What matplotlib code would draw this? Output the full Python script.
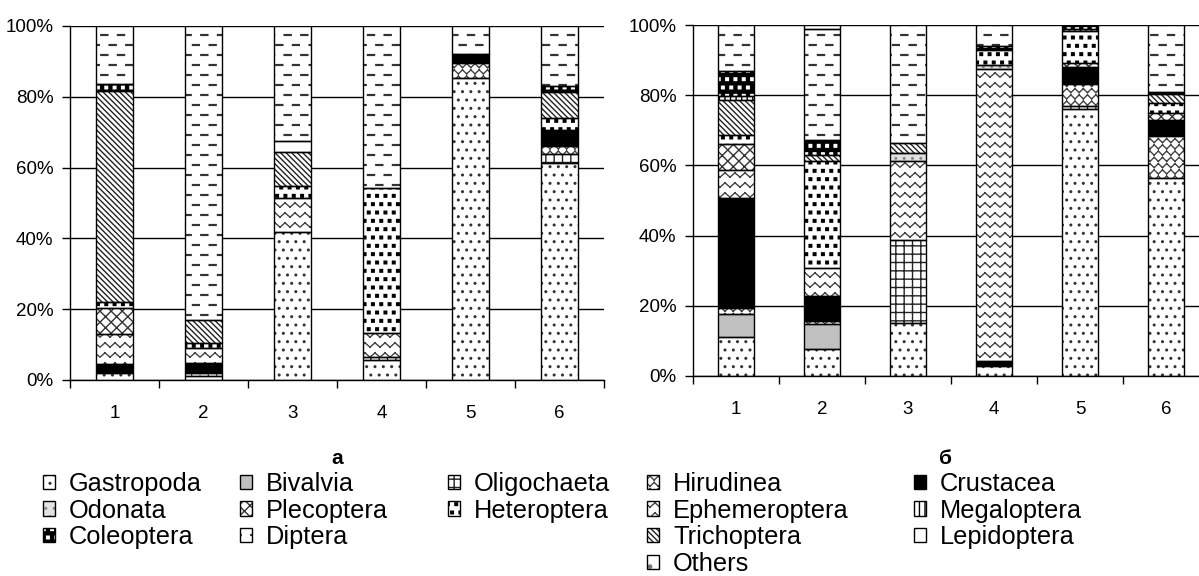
import numpy as np
import matplotlib
matplotlib.use('Agg')
import matplotlib.pyplot as plt
import matplotlib.hatch as mhatch
from matplotlib.path import Path
from matplotlib.patches import Patch

# === DATA (share of each taxon, %) : (panel a, panel b), stations 1..6 ===
STATIONS = ['1', '2', '3', '4', '5', '6']
PANEL_LABELS = ['а', 'б']
Y_TICKS = [0, 20, 40, 60, 80, 100]
Y_LABELS = ['0%', '20%', '40%', '60%', '80%', '100%']

GASTROPODA = ([2.0, 1.0, 41.7, 5.6, 85.2, 61.2], [11.2, 7.6, 15.2, 2.8, 76.2, 56.3])
BIVALVIA = ([0, 0, 0, 0, 0, 0], [6.6, 7.1, 0, 0, 0, 0])
OLIGOCHAETA = ([0, 0, 0, 1.0, 0, 2.6], [0, 0, 23.5, 0, 0.7, 0])
HIRUDINEA = ([0, 1.1, 0, 0, 4.4, 2.4], [1.5, 1.0, 0, 0, 6.4, 12.0])
CRUSTACEA = ([2.4, 2.8, 0, 0, 2.4, 4.4], [31.3, 7.1, 0, 1.6, 4.7, 4.6])
EPHEMEROPTERA = ([8.5, 4.2, 9.6, 6.6, 0, 0], [8.0, 8.0, 22.5, 83.2, 0, 0])
ODONATA = ([0, 0, 0, 0, 0, 0], [0, 0, 2.4, 0.9, 0, 0])
PLECOPTERA = ([7.4, 0, 0, 0, 0, 0], [7.6, 0, 0, 0, 1.2, 1.9])
HETEROPTERA = ([1.8, 1.4, 3.6, 40.9, 0, 3.3], [2.4, 30.4, 0, 4.3, 9.1, 3.0])
TRICHOPTERA = ([59.6, 6.4, 9.6, 0, 0, 7.5], [10.1, 1.7, 2.8, 0, 0.6, 2.4])
MEGALOPTERA = ([0, 0, 0, 0, 0, 0], [1.0, 0, 0, 0, 0, 0])
COLEOPTERA = ([1.9, 0, 0, 0, 0, 1.7], [7.1, 4.3, 0, 1.1, 1.1, 0.7])
LEPIDOPTERA = ([0, 0, 3.0, 0, 0, 0], [0, 0, 0, 0, 0, 0])
DIPTERA = ([16.4, 83.1, 32.5, 45.9, 8.0, 16.9], [13.2, 31.8, 33.6, 6.1, 0, 19.1])
OTHERS = ([0, 0, 0, 0, 0, 0], [0, 1.0, 0, 0, 0, 0])

TAXA = {
    'Gastropoda': GASTROPODA, 'Bivalvia': BIVALVIA, 'Oligochaeta': OLIGOCHAETA,
    'Hirudinea': HIRUDINEA, 'Crustacea': CRUSTACEA, 'Ephemeroptera': EPHEMEROPTERA,
    'Odonata': ODONATA, 'Plecoptera': PLECOPTERA, 'Heteroptera': HETEROPTERA,
    'Trichoptera': TRICHOPTERA, 'Megaloptera': MEGALOPTERA, 'Coleoptera': COLEOPTERA,
    'Lepidoptera': LEPIDOPTERA, 'Diptera': DIPTERA, 'Others': OTHERS,
}
STACK = list(TAXA)  # bottom -> top

# legend columns as in the original layout (icon left edge, px)
LEGEND_COLS = [
    (['Gastropoda', 'Odonata', 'Coleoptera'], 43),
    (['Bivalvia', 'Plecoptera', 'Diptera'], 240),
    (['Oligochaeta', 'Heteroptera'], 448),
    (['Hirudinea', 'Ephemeroptera', 'Trichoptera', 'Others'], 647),
    (['Crustacea', 'Megaloptera', 'Lepidoptera'], 914),
]


# --- custom hatch patterns (dashes, waves, weave, squares) ---
def _segs(segs):
    v = np.array(segs, float).reshape(-1, 2)
    c = np.tile([Path.MOVETO, Path.LINETO], len(segs)).astype(Path.code_type)
    return v, c


def _boxes(boxes):
    v, c = [], []
    for x0, y0, x1, y1 in boxes:
        v += [(x0, y0), (x1, y0), (x1, y1), (x0, y1), (x0, y0)]
        c += [Path.MOVETO, Path.LINETO, Path.LINETO, Path.LINETO, Path.CLOSEPOLY]
    return np.array(v, float), np.array(c, Path.code_type)


def _zigzag(rows, periods, amp, alternate):
    segs = []
    for r in range(rows):
        y = (r + 0.5) / rows
        s = -1 if (alternate and r % 2) else 1
        for k in range(periods):
            x0, xm, x1 = k / periods, (k + 0.5) / periods, (k + 1) / periods
            segs.append([(x0, y - s * amp), (xm, y + s * amp)])
            segs.append([(xm, y + s * amp), (x1, y - s * amp)])
    return _segs(segs)


class _CustomHatch(mhatch.HatchPatternBase):
    symbol = ''

    def __init__(self, hatch, density):
        if hatch.count(self.symbol):
            self.verts, self.kinds = self.build()
        else:
            self.verts = np.empty((0, 2))
            self.kinds = np.empty(0, Path.code_type)
        self.num_vertices = len(self.verts)

    def set_vertices_and_codes(self, vertices, codes):
        vertices[:] = self.verts
        codes[:] = self.kinds


class DashHatch(_CustomHatch):
    symbol = '_'

    def build(self):
        rows, cols, length, th = 10, 6, 0.07, 0.004
        boxes = []
        for r in range(rows):
            y = (r + 0.5) / rows
            for k in range(cols):
                x0 = (k + 0.05 + 0.5 * (r % 2)) / cols
                boxes.append((x0, y - th, x0 + length, y + th))
        return _boxes(boxes)


class WaveHatch(_CustomHatch):
    symbol = '~'

    def build(self):
        return _zigzag(10, 10, 0.022, False)


class WeaveHatch(_CustomHatch):
    symbol = 'w'

    def build(self):
        return _zigzag(16, 12, 0.02, True)


class SquareHatch(_CustomHatch):
    symbol = 'q'

    def build(self):
        n, h = 12, 0.013
        boxes = []
        for r in range(n):
            y = (r + 0.5) / n
            for k in range(n):
                x = (k + 0.25 + 0.5 * (r % 2)) / n
                boxes.append((x - h, y - h, x + h, y + h))
        return _boxes(boxes)


mhatch._hatch_types.extend([DashHatch, WaveHatch, WeaveHatch, SquareHatch])
mhatch._validate_hatch_pattern = lambda hatch: None

# face colour, hatch colour, hatch
STYLE = {
    'Gastropoda': ('white', '#333333', '..'),
    'Bivalvia': ('#c0c0c0', '#c0c0c0', None),
    'Oligochaeta': ('white', '#222222', '++'),
    'Hirudinea': ('white', '#444444', 'w'),
    'Crustacea': ('black', 'black', None),
    'Ephemeroptera': ('white', '#444444', '~'),
    'Odonata': ('#e2e2e2', '#8a8a8a', '..'),
    'Plecoptera': ('white', '#333333', 'xxx'),
    'Heteroptera': ('white', 'black', 'q'),
    'Trichoptera': ('white', '#222222', '\\' * 6),
    'Megaloptera': ('white', 'black', '|||'),
    'Coleoptera': ('black', 'white', 'q'),
    'Lepidoptera': ('white', 'white', None),
    'Diptera': ('white', '#333333', '_'),
    'Others': ('white', '#777777', '.'),
}

plt.rcParams['font.family'] = ['Liberation Sans', 'DejaVu Sans']
plt.rcParams['hatch.linewidth'] = 1.0

W, H = 1199, 576
TICK_FS = 13.5
fig = plt.figure(figsize=(W / 100, H / 100), dpi=100)
ax_a = fig.add_axes([70 / W, 1 - 380 / H, 534 / W, 354 / H])
ax_b = fig.add_axes([693 / W, 1 - 376 / H, 516 / W, 351 / H])

x = np.arange(1, len(STATIONS) + 1)
BAR_W = 0.41


def draw_panel(ax, idx):
    bottom = np.zeros(len(STATIONS))
    for name in STACK:
        vals = np.array(TAXA[name][idx], float)
        fc, hc, hatch = STYLE[name]
        m = vals > 0
        ax.bar(x[m], vals[m], BAR_W, bottom=bottom[m], color=fc, edgecolor=hc,
               hatch=hatch, linewidth=0, zorder=3)
        ax.bar(x[m], vals[m], BAR_W, bottom=bottom[m], fill=False,
               edgecolor='black', linewidth=1.0, zorder=4)
        bottom += vals

    ax.set_xlim(0.5, len(STATIONS) + 0.5)
    ax.set_ylim(0, 100)
    ax.set_yticks(Y_TICKS, Y_LABELS)
    ax.set_xticks(np.arange(0.5, len(STATIONS) + 1, 1))
    ax.set_xticks(x, STATIONS, minor=True)
    ax.tick_params(axis='x', which='major', length=6, width=1, labelbottom=False)
    ax.tick_params(axis='x', which='minor', length=0, pad=18, labelsize=TICK_FS)
    ax.tick_params(axis='y', length=6, width=1, pad=6, labelsize=TICK_FS)
    ax.yaxis.grid(True, color='black', linewidth=1.0)
    ax.set_axisbelow(True)
    for side in ('top', 'right'):
        ax.spines[side].set_visible(False)
    for side in ('left', 'bottom'):
        ax.spines[side].set_linewidth(1.0)
        ax.spines[side].set_zorder(5)


draw_panel(ax_a, 0)
draw_panel(ax_b, 1)

fig.text(337 / W, 1 - 458 / H, PANEL_LABELS[0], ha='center', va='center',
         fontsize=15, fontweight='bold')
fig.text(945 / W, 1 - 458 / H, PANEL_LABELS[1], ha='center', va='center',
         fontsize=15, fontweight='bold')

for names, x_px in LEGEND_COLS:
    handles = []
    for n in names:
        fc, hc, hatch = STYLE[n]
        handles.append((Patch(facecolor=fc, edgecolor=hc, hatch=hatch, linewidth=0),
                        Patch(fill=False, edgecolor='black', linewidth=1.0)))
    fig.legend(handles, names, loc='upper left',
               bbox_to_anchor=(x_px / W, 1 - 472 / H),
               frameon=False, fontsize=18.3, handlelength=0.48,
               handleheight=0.48, handletextpad=0.55, labelspacing=0.1,
               borderpad=0, borderaxespad=0)

fig.savefig('out.png', dpi=100)
